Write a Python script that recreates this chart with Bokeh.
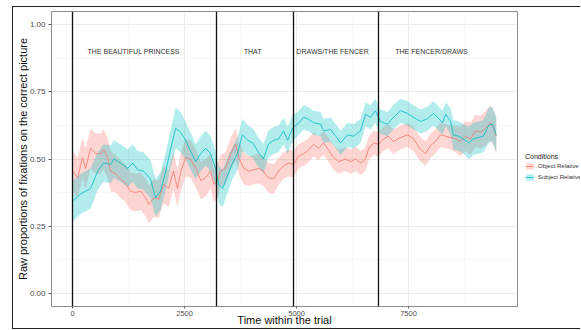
from bokeh.plotting import figure
from bokeh.layouts import row
from bokeh.models import (Range1d, Legend, LegendItem, FixedTicker, PrintfTickFormatter,
                          ColumnDataSource)
from bokeh.embed import file_html
from bokeh.resources import INLINE
from bokeh.core.properties import value

# ---------------- data ----------------
subj_time = [0, 180, 400, 560, 690, 850, 920, 1070, 1230, 1340,
             1450, 1580, 1740, 1850, 1960, 2080, 2190, 2300, 2410, 2520,
             2630, 2750, 2860, 2970, 3080, 3190, 3260, 3350, 3460, 3570,
             3680, 3790, 3910, 4020, 4130, 4260, 4370, 4490, 4600, 4710,
             4800, 4910, 5020, 5160, 5250, 5380, 5540, 5600, 5760, 5920,
             5980, 6140, 6270, 6430, 6540, 6650, 6760, 6870, 7030, 7160,
             7320, 7480, 7610, 7770, 7920, 8060, 8150, 8260, 8330, 8440,
             8500, 8620, 8730, 8840, 8950, 9060, 9170, 9290, 9370, 9460]
subj_prop = [0.343, 0.37, 0.39, 0.455, 0.485, 0.48, 0.50, 0.485, 0.465, 0.485,
             0.46, 0.455, 0.425, 0.355, 0.38, 0.455, 0.54, 0.615, 0.60, 0.57,
             0.53, 0.49, 0.52, 0.54, 0.52, 0.465, 0.405, 0.39, 0.44, 0.485,
             0.52, 0.59, 0.57, 0.56, 0.53, 0.50, 0.555, 0.57, 0.575, 0.605,
             0.57, 0.615, 0.63, 0.655, 0.65, 0.635, 0.63, 0.605, 0.61, 0.575,
             0.56, 0.59, 0.585, 0.605, 0.667, 0.655, 0.68, 0.64, 0.63, 0.655,
             0.68, 0.67, 0.655, 0.64, 0.65, 0.67, 0.655, 0.635, 0.667, 0.64,
             0.59, 0.585, 0.575, 0.56, 0.575, 0.58, 0.585, 0.625, 0.63, 0.59]
subj_ci = [0.075, 0.075, 0.075, 0.07, 0.07, 0.07, 0.07, 0.07, 0.07, 0.07,
           0.07, 0.07, 0.07, 0.07, 0.07, 0.07, 0.07, 0.075, 0.075, 0.07,
           0.07, 0.065, 0.065, 0.065, 0.065, 0.065, 0.07, 0.07, 0.065, 0.06,
           0.06, 0.06, 0.055, 0.055, 0.055, 0.055, 0.05, 0.05, 0.05, 0.05,
           0.05, 0.05, 0.045, 0.045, 0.045, 0.045, 0.045, 0.045, 0.045, 0.045,
           0.045, 0.045, 0.045, 0.045, 0.045, 0.045, 0.045, 0.045, 0.045, 0.045,
           0.045, 0.045, 0.045, 0.045, 0.045, 0.045, 0.045, 0.045, 0.045, 0.05,
           0.055, 0.055, 0.055, 0.06, 0.06, 0.06, 0.06, 0.065, 0.065, 0.065]

obj_time = [0, 110, 220, 290, 400, 510, 630, 690, 780, 850,
            960, 1070, 1180, 1290, 1410, 1520, 1630, 1700, 1810, 1920,
            2030, 2140, 2250, 2340, 2410, 2520, 2630, 2750, 2860, 2970,
            3080, 3150, 3240, 3300, 3410, 3530, 3640, 3710, 3820, 3930,
            4040, 4150, 4260, 4370, 4490, 4600, 4710, 4820, 4930, 5040,
            5160, 5250, 5380, 5490, 5600, 5710, 5830, 5940, 6090, 6210,
            6320, 6430, 6540, 6610, 6720, 6830, 6940, 7050, 7160, 7320,
            7480, 7610, 7770, 7880, 7990, 8100, 8210, 8330, 8440, 8550,
            8660, 8770, 8880, 9000, 9110, 9220, 9330, 9400, 9460]
obj_prop = [0.455, 0.43, 0.505, 0.465, 0.54, 0.52, 0.52, 0.535, 0.505, 0.455,
            0.445, 0.425, 0.41, 0.38, 0.375, 0.38, 0.355, 0.33, 0.355, 0.35,
            0.405, 0.39, 0.455, 0.39, 0.45, 0.505, 0.50, 0.465, 0.42, 0.43,
            0.455, 0.405, 0.42, 0.455, 0.465, 0.52, 0.555, 0.505, 0.465, 0.455,
            0.46, 0.465, 0.455, 0.43, 0.425, 0.455, 0.475, 0.485, 0.48, 0.51,
            0.52, 0.53, 0.555, 0.54, 0.56, 0.535, 0.505, 0.49, 0.50, 0.49,
            0.50, 0.485, 0.50, 0.54, 0.56, 0.555, 0.575, 0.585, 0.565, 0.58,
            0.59, 0.575, 0.535, 0.52, 0.55, 0.565, 0.59, 0.585, 0.58, 0.575,
            0.565, 0.585, 0.575, 0.605, 0.60, 0.615, 0.635, 0.615, 0.585]
obj_ci = [0.075, 0.075, 0.075, 0.075, 0.075, 0.075, 0.075, 0.075, 0.075, 0.075,
          0.07, 0.07, 0.07, 0.07, 0.07, 0.07, 0.07, 0.07, 0.07, 0.07,
          0.07, 0.07, 0.07, 0.07, 0.07, 0.07, 0.07, 0.07, 0.07, 0.07,
          0.065, 0.065, 0.065, 0.06, 0.06, 0.06, 0.06, 0.06, 0.06, 0.055,
          0.055, 0.055, 0.055, 0.055, 0.055, 0.05, 0.05, 0.05, 0.05,
          0.045, 0.045, 0.045, 0.045, 0.045, 0.045, 0.045, 0.045, 0.045, 0.045,
          0.045, 0.045, 0.045, 0.045, 0.045, 0.045, 0.045, 0.045, 0.045, 0.045,
          0.045, 0.045, 0.045, 0.045, 0.045, 0.045, 0.045, 0.045, 0.045, 0.045,
          0.05, 0.055, 0.055, 0.06, 0.06, 0.06, 0.065, 0.065, 0.065, 0.065]

word_onsets = [0, 3214, 4933, 6830]
region_labels = ["THE BEAUTIFUL PRINCESS", "THAT", "DRAWS/THE FENCER", "THE FENCER/DRAWS"]
region_label_x = [1362, 4018, 5804, 8013]
region_label_y = [0.9, 0.9, 0.9, 0.9]

x_ticks = [0, 2500, 5000, 7500]
y_ticks = [0.0, 0.25, 0.5, 0.75, 1.0]
legend_title = "Conditions"
condition_names = ["Object Relative", "Subject Relative"]

RED = "#F8766D"
CYAN = "#00BFC4"
FONT = "Liberation Sans"
H = 321

obj_src = ColumnDataSource(dict(t=obj_time, y=obj_prop,
                                lo=[v - c for v, c in zip(obj_prop, obj_ci)],
                                hi=[v + c for v, c in zip(obj_prop, obj_ci)]))
subj_src = ColumnDataSource(dict(t=subj_time, y=subj_prop,
                                 lo=[v - c for v, c in zip(subj_prop, subj_ci)],
                                 hi=[v + c for v, c in zip(subj_prop, subj_ci)]))
sources = [(obj_src, RED), (subj_src, CYAN)]

# ---------------- main figure ----------------
p = figure(width=505, height=H, output_backend="svg", toolbar_location=None,
           x_range=Range1d(-473, 9933), y_range=Range1d(-0.05, 1.05),
           min_border_left=10, min_border_top=4, min_border_right=1, min_border_bottom=10)

p.background_fill_color = "white"
p.border_fill_color = "white"
p.outline_line_color = "#8c8c8c"
p.outline_line_width = 1

for g in (p.xgrid[0], p.ygrid[0]):
    g.grid_line_color = "#EBEBEB"
    g.grid_line_width = 1
    g.minor_grid_line_color = "#F2F2F2"
    g.minor_grid_line_width = 0.6

p.xaxis.ticker = FixedTicker(ticks=x_ticks, minor_ticks=[1250, 3750, 6250, 8750])
p.yaxis.ticker = FixedTicker(ticks=y_ticks, minor_ticks=[0.125, 0.375, 0.625, 0.875])
p.yaxis.formatter = PrintfTickFormatter(format="%.2f")
p.xaxis.formatter = PrintfTickFormatter(format="%d")

for ax in (p.xaxis[0], p.yaxis[0]):
    ax.axis_line_color = None
    ax.major_tick_line_color = "#555555"
    ax.major_tick_out = 3
    ax.major_tick_in = 0
    ax.minor_tick_line_color = None
    ax.major_label_text_font = FONT
    ax.major_label_text_color = "#4D4D4D"
    ax.axis_label_text_font = FONT
    ax.axis_label_text_font_style = "normal"
    ax.axis_label_text_color = "#111111"

p.xaxis.major_tick_out = 2
p.xaxis.major_label_text_font_size = "7.5px"
p.xaxis.major_label_standoff = 0
p.xaxis.axis_label = "Time within the trial"
p.xaxis.axis_label_text_font_size = "11px"
p.xaxis.axis_label_standoff = -5
p.yaxis.major_label_text_font_size = "8px"
p.yaxis.major_label_standoff = 2
p.yaxis.axis_label = "Raw proportions of fixations on the correct picture"
p.yaxis.axis_label_text_font_size = "11px"
p.yaxis.axis_label_standoff = -2

for src, col in sources:
    p.varea(x="t", y1="lo", y2="hi", source=src, fill_color=col, fill_alpha=0.3)
for src, col in sources:
    p.line(x="t", y="y", source=src, line_color=col, line_width=0.8)

p.vspan(x=word_onsets, line_color="#111111", line_width=1.3)

p.text(x=region_label_x, y=region_label_y, text=region_labels,
       text_font=value(FONT), text_font_size="7px", text_color="#333333",
       text_align="center", text_baseline="middle")

# ---------------- legend figure (same data, viewed off-range) ----------------
lg = figure(width=62, height=H, output_backend="svg", toolbar_location=None,
            x_range=Range1d(-3000, -2000), y_range=Range1d(0, 1), min_border=0)
lg.axis.visible = False
lg.grid.visible = False
lg.outline_line_color = None
lg.background_fill_color = "white"
lg.border_fill_color = "white"

items = []
for name, (src, col) in zip(condition_names, sources):
    a = lg.varea(x="t", y1="lo", y2="hi", source=src, fill_color=col, fill_alpha=0.3)
    l = lg.line(x="t", y="y", source=src, line_color=col, line_width=0.8)
    items.append(LegendItem(label=name, renderers=[a, l]))

legend = Legend(items=items, location=(5, 123), title=legend_title)
legend.title_text_font = FONT
legend.title_text_font_size = "7px"
legend.title_text_font_style = "normal"
legend.title_text_color = "#222222"
legend.title_standoff = 2
legend.label_text_font = FONT
legend.label_text_font_size = "6px"
legend.label_text_color = "#333333"
legend.label_standoff = 4
legend.glyph_width = 9
legend.glyph_height = 8
legend.label_height = 8
legend.spacing = 3
legend.padding = 2
legend.margin = 0
legend.border_line_alpha = 0
legend.background_fill_alpha = 0
lg.add_layout(legend, "center")

layout = row(p, lg)
layout.styles = {"margin-left": "12px", "margin-top": "6px",
                 "border-top": "1.5px solid #222", "border-left": "1.5px solid #222",
                 "border-bottom": "1.5px solid #222"}

open("out.html", "w").write(file_html(layout, INLINE))
